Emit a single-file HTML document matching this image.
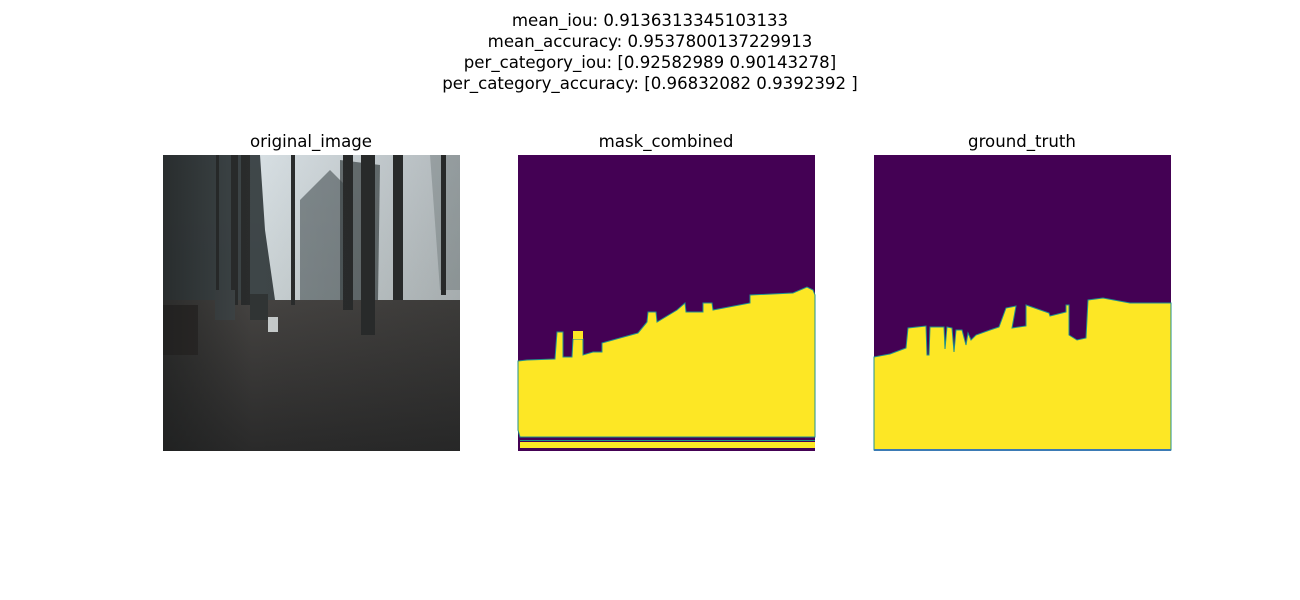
<!DOCTYPE html>
<html><head><meta charset="utf-8"><style>
body{margin:0;background:#fff;width:1300px;height:600px;overflow:hidden;font-family:"Liberation Sans","DejaVu Sans",sans-serif}
svg{position:absolute;left:0;top:0}
text{font-family:"DejaVu Sans","Liberation Sans",sans-serif;fill:#000}
</style></head><body>
<svg width="1300" height="600">
<defs>
<linearGradient id="sky" x1="0" y1="0" x2="0" y2="1">
<stop offset="0" stop-color="#d8e0e4"/><stop offset="0.5" stop-color="#c8d0d2"/><stop offset="1" stop-color="#8a8e8e"/></linearGradient>
<linearGradient id="ground" x1="0" y1="0" x2="0" y2="1">
<stop offset="0" stop-color="#454341"/><stop offset="1" stop-color="#2a2a2a"/></linearGradient>
<linearGradient id="shade" x1="0" y1="0" x2="1" y2="0">
<stop offset="0" stop-color="#1a1c1c" stop-opacity="0.6"/><stop offset="0.3" stop-color="#1a1c1c" stop-opacity="0"/><stop offset="1" stop-color="#1a1c1c" stop-opacity="0.2"/></linearGradient>
</defs>
<g font-size="16.6" text-anchor="middle">
<text x="650" y="26">mean_iou: 0.9136313345103133</text>
<text x="650" y="47">mean_accuracy: 0.9537800137229913</text>
<text x="650" y="68">per_category_iou: [0.92582989 0.90143278]</text>
<text x="650" y="89">per_category_accuracy: [0.96832082 0.9392392 ]</text>
</g>
<g font-size="16.6" text-anchor="middle">
<text x="311" y="147">original_image</text>
<text x="666" y="147">mask_combined</text>
<text x="1022" y="147">ground_truth</text>
</g>
<g>
<rect x="163" y="155" width="297" height="296" fill="url(#sky)"/>
<path d="M163 155 L260 155 L265 230 L275 300 L163 310 Z" fill="#2f3638" opacity="0.9"/>
<path d="M300 200 L330 170 L350 190 L345 300 L300 305 Z" fill="#4a5456" opacity="0.6"/>
<path d="M340 160 L380 165 L378 300 L340 305 Z" fill="#3c4446" opacity="0.7"/>
<path d="M430 155 L460 155 L460 290 L440 290 Z" fill="#5a6668" opacity="0.3"/>
<rect x="163" y="300" width="297" height="151" fill="url(#ground)"/>
<g fill="#2a2c2c">
<rect x="231" y="155" width="7" height="150"/><rect x="241" y="155" width="9" height="150"/>
<rect x="291" y="155" width="4" height="150"/><rect x="343" y="155" width="10" height="155"/>
<rect x="361" y="155" width="14" height="180"/><rect x="393" y="155" width="10" height="145"/>
<rect x="441" y="155" width="5" height="140"/><rect x="216" y="155" width="3" height="140"/>
</g>
<rect x="163" y="305" width="35" height="50" fill="#2e2a28"/>
<rect x="215" y="290" width="20" height="30" fill="#404648"/><rect x="250" y="294" width="18" height="26" fill="#303434"/>
<rect x="268" y="317" width="10" height="15" fill="#c8cccc"/>
<rect x="163" y="155" width="297" height="296" fill="url(#shade)"/>
</g>
<g>
<rect x="518" y="155" width="297" height="296" fill="#440154"/>
<path d="M518 361 L527 360 L555 359 L557 332 L563 332 L563 357 L572 357 L573 339 L583 339 L583 355 L593 352 L602 352 L602 343 L620 338 L638 333 L647 322 L648 312 L656 312 L657 322 L677 310 L685 303 L686 312 L703 312 L703 303 L712 303 L713 310 L750 303 L750 295 L793 293 L807 287 L813 290 L815 295 L815 437 L520 437 L518 430 Z" fill="#fde725" stroke="#21918c" stroke-width="1"/>
<rect x="573" y="331" width="10" height="8" fill="#fde725"/>
<rect x="520" y="442" width="295" height="6" fill="#fde725"/>
<rect x="520" y="440" width="295" height="1" fill="#21918c"/>
</g>
<g>
<rect x="874" y="155" width="297" height="296" fill="#440154"/>
<path d="M874 357 L890 354 L906 348 L908 328 L926 326 L927 355 L929 355 L930 327 L944 327 L945 349 L947 327 L952 328 L954 352 L956 330 L962 330 L966 345 L968 333 L971 340 L976 335 L990 330 L999 327 L1006 308 L1016 306 L1012 328 L1026 326 L1026 305 L1049 313 L1050 316 L1066 312 L1066 305 L1069 305 L1069 335 L1077 340 L1086 338 L1088 300 L1103 298 L1130 303 L1171 303 L1171 450 L874 450 Z" fill="#fde725" stroke="#21918c" stroke-width="1"/>
<rect x="874" y="449" width="297" height="2" fill="#3b7bb5"/>
</g>
</svg>
</body></html>
